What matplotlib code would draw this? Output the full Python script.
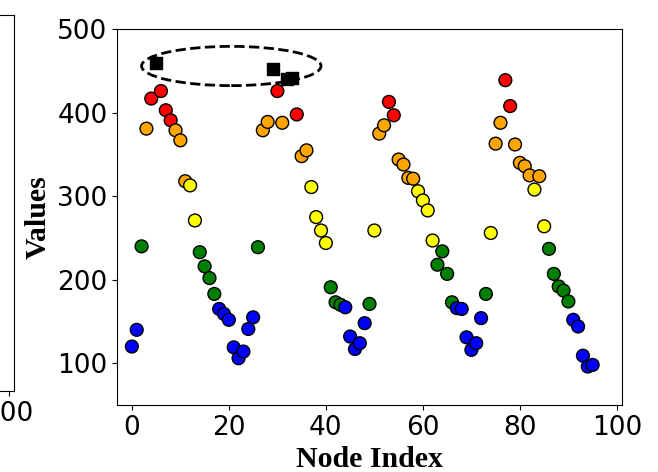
import matplotlib.pyplot as plt
import numpy as np
from matplotlib.patches import Ellipse

# node values (index 0..95)
values = [120, 140, 240, 381, 417, 460, 426, 403, 391, 379,
          367, 318, 313, 271, 233, 216, 202, 183, 165, 159,
          152, 119, 106, 114, 141, 155, 239, 379, 389, 452,
          426, 388, 441, 442, 398, 348, 355, 311, 275, 259,
          244, 191, 173, 170, 167, 132, 117, 124, 148, 171,
          259, 375, 385, 413, 397, 344, 338, 322, 321, 306,
          295, 283, 247, 218, 234, 207, 173, 166, 165, 131,
          116, 124, 154, 183, 256, 363, 388, 439, 408, 362,
          340, 336, 325, 308, 324, 264, 237, 207, 192, 187,
          174, 152, 144, 109, 96, 98]
bins = [168.5, 242, 315, 390, 440]
bin_colors = ['blue', 'green', 'yellow', 'orange', 'red']

idx = np.arange(len(values))
vals = np.array(values)
cls = np.digitize(vals, bins)

fig = plt.figure(figsize=(6.58, 4.72), dpi=100)

# neighbouring panel, only its right edge is inside the picture
ax0 = fig.add_axes([-0.746, 0.1716, 0.7666, 0.7965])
ax0.set_xlim(-3, 101)
ax0.set_xticks([100])
ax0.set_yticks([])
ax0.tick_params(labelsize=19)

ax = fig.add_axes([0.1783, 0.142, 0.7666, 0.796])

circ = cls < 5
cols = [bin_colors[c] for c in cls[circ]]
ax.scatter(idx[circ], vals[circ], c=cols, s=85, edgecolors='black', linewidths=1, zorder=3)
ax.scatter(idx[~circ], vals[~circ], c='black', marker='s', s=80, zorder=3)

# dashed ellipse round the top values
ell = Ellipse((20.5, 456), 37, 47, fill=False, linestyle='--', edgecolor='black', linewidth=2)
ax.add_patch(ell)

ax.set_xlim(-3, 101)
ax.set_ylim(50, 500)
ax.set_xticks([0, 20, 40, 60, 80, 100])
ax.set_yticks([100, 200, 300, 400, 500])
ax.tick_params(labelsize=19)
ax.set_xlabel("Node Index", fontsize=21.5, fontweight='bold', family='Liberation Serif')
ax.set_ylabel("Values", fontsize=21.5, fontweight='bold', family='Liberation Serif')

fig.savefig("out.png", dpi=100)
